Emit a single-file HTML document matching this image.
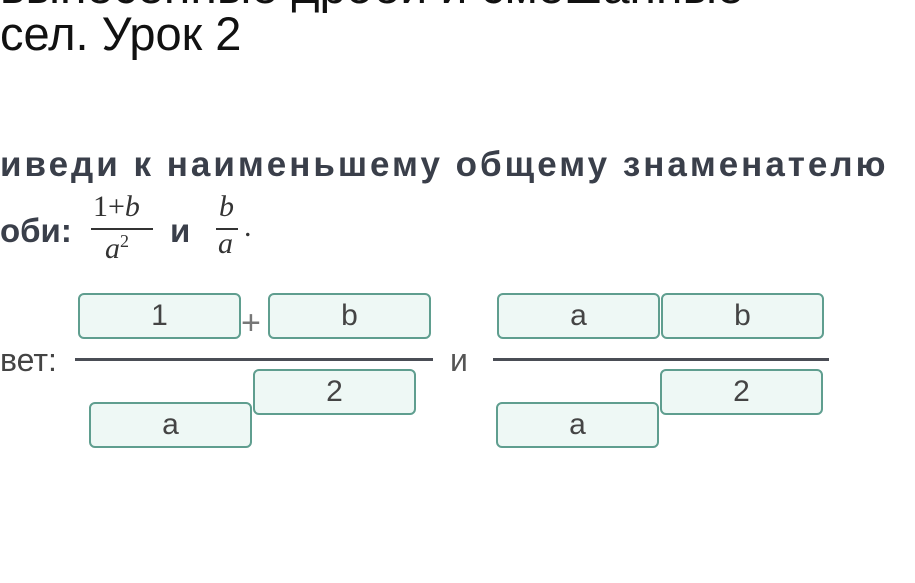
<html><head><style>
body{margin:0;width:915px;height:583px;background:#fff;position:relative;overflow:hidden;font-family:"Liberation Sans",sans-serif}
.a{position:absolute;white-space:nowrap}
.box{position:absolute;width:163px;height:46px;border:2px solid #5f9e8f;border-radius:6px;background:#eef8f5;box-sizing:border-box;text-align:center;font-size:30px;line-height:42px;color:#444}
.ln{position:absolute;height:3px;background:#4a4d55}
.m{font-family:"Liberation Serif",serif;color:#333}
</style></head><body>
<div class="a" style="left:0;top:-40px;font-size:48px;color:#111">вынесенные дроби и смешанные</div>
<div class="a" style="left:0;top:6px;font-size:47px;color:#111">сел. Урок 2</div>
<div class="a" style="left:0;top:145px;font-size:35px;letter-spacing:3px;font-weight:bold;color:#3a3f4a">иведи к наименьшему общему знаменателю</div>
<div class="a" style="left:0;top:212px;font-size:33px;font-weight:bold;color:#3a3f4a">оби:</div>
<div class="a m" style="left:93px;top:190px;font-size:30px">1+<i>b</i></div>
<div class="ln" style="left:91px;top:228px;width:62px;height:2px;background:#333"></div>
<div class="a m" style="left:105px;top:231px;font-size:30px"><i>a</i><sup style="font-size:18px">2</sup></div>
<div class="a" style="left:170px;top:212px;font-size:33px;font-weight:bold;color:#3a3f4a">и</div>
<div class="a m" style="left:219px;top:190px;font-size:30px"><i>b</i></div>
<div class="ln" style="left:216px;top:228px;width:22px;height:2px;background:#333"></div>
<div class="a m" style="left:218px;top:227px;font-size:30px"><i>a</i></div>
<div class="a m" style="left:244px;top:210px;font-size:30px">.</div>
<div class="a" style="left:0;top:342px;font-size:32px;color:#444">вет:</div>
<div class="box" style="left:78px;top:293px">1</div>
<div class="a" style="left:241px;top:304px;font-size:34px;color:#777;font-weight:lighter">+</div>
<div class="box" style="left:268px;top:293px">b</div>
<div class="ln" style="left:75px;top:358px;width:358px"></div>
<div class="box" style="left:253px;top:369px">2</div>
<div class="box" style="left:89px;top:402px">a</div>
<div class="a" style="left:450px;top:342px;font-size:32px;color:#555">и</div>
<div class="box" style="left:497px;top:293px">a</div>
<div class="box" style="left:661px;top:293px">b</div>
<div class="ln" style="left:493px;top:358px;width:336px"></div>
<div class="box" style="left:660px;top:369px">2</div>
<div class="box" style="left:496px;top:402px">a</div>
</body></html>
